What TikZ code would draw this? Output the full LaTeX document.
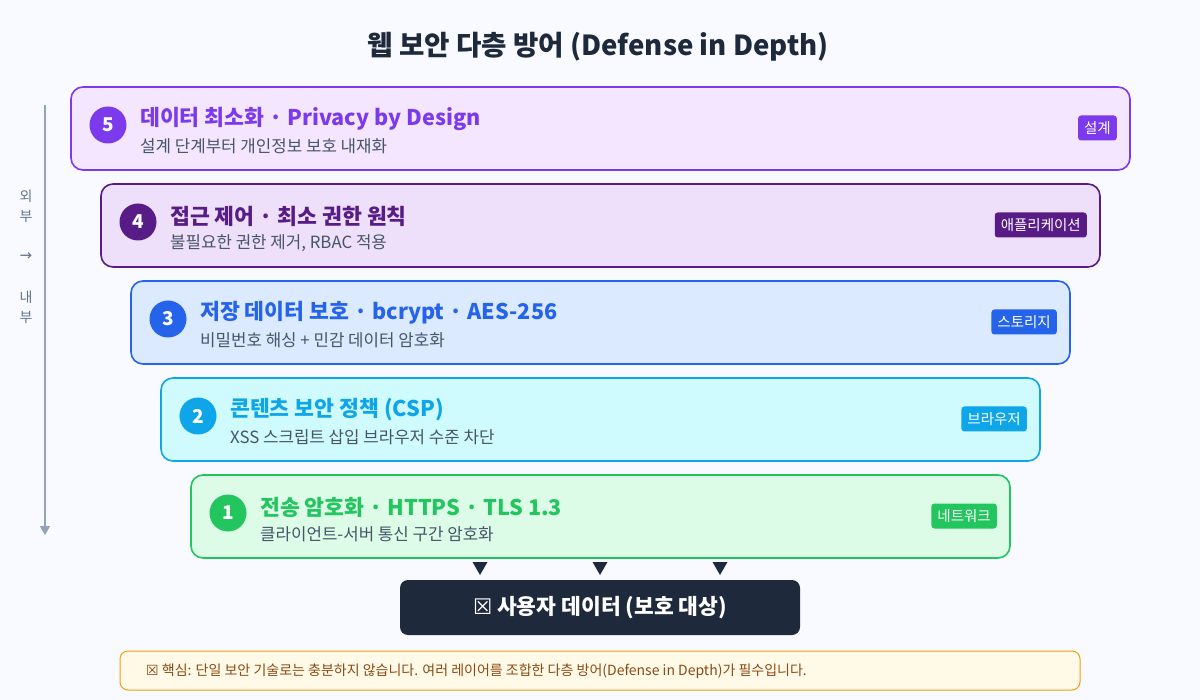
\documentclass[tikz,border=0pt]{standalone}
\usepackage{fontspec}
\setmainfont{Noto Sans CJK KR}
\newfontfamily\symfont{DejaVu Sans}
\usetikzlibrary{arrows.meta,calc}
\definecolor{bg}{HTML}{F8FAFF}
\definecolor{ink}{HTML}{1E293B}
\definecolor{sub}{HTML}{475569}
\definecolor{axis}{HTML}{94A3B8}
\definecolor{axistext}{HTML}{64748B}
\definecolor{cA}{HTML}{7C3AED}\definecolor{fA}{HTML}{F3E6FE}
\definecolor{cB}{HTML}{581C87}\definecolor{fB}{HTML}{EEDFFA}
\definecolor{cC}{HTML}{2563EB}\definecolor{fC}{HTML}{DBEAFE}
\definecolor{cD}{HTML}{0EA5E9}\definecolor{fD}{HTML}{CFFAFE}
\definecolor{cE}{HTML}{22C55E}\definecolor{fE}{HTML}{DCFCE7}
\definecolor{noteF}{HTML}{FFF9E8}
\definecolor{noteB}{HTML}{F59E0B}
\definecolor{noteT}{HTML}{8A4B12}
\tikzset{
  layerbox/.style={draw=#1, line width=1.6pt, rounded corners=12pt},
  numcirc/.style={circle, fill=#1, minimum size=37pt, inner sep=0pt, text=white, font=\bfseries\fontsize{19}{19}\selectfont},
  ltitle/.style={anchor=west, text=#1, font=\bfseries\fontsize{21.6}{22}\selectfont, inner sep=0pt},
  lsub/.style={anchor=west, text=sub, font=\fontsize{16.8}{17}\selectfont, inner sep=0pt},
  badge/.style={fill=#1, rounded corners=3pt, text=white, font=\fontsize{14.5}{14.5}\selectfont, inner xsep=6pt, inner ysep=4pt, minimum height=25pt, anchor=east},
  tri/.style={fill=ink, draw=none},
}
\newcommand{\layer}[9]{%
  \fill[#7, rounded corners=12pt] (#2,#3) rectangle (#4,#5);
  \draw[layerbox=#6] (#2,#3) rectangle (#4,#5);
  \node[numcirc=#6] (#1n) at ($(#2,#3)+(37,38)$) {#8};
  \node[badge=#6] (#1b) at ($(#4,#3)+(-13,41)$) {#9};
}
\begin{document}
\begin{tikzpicture}[x=1pt,y=-1pt]
\fill[bg] (0,0) rectangle (1200,700);
\useasboundingbox (0,0) rectangle (1200,700);
\node[text=ink, font=\bfseries\fontsize{27.6}{28}\selectfont] (title) at (598,47) {웹 보안 다층 방어 (Defense in Depth)};

% axis
\coordinate (axtop) at (45,105);
\coordinate (axbot) at (45,535);
\draw[axis, line width=1.6pt, -{Triangle[length=9pt,width=10pt]}] (axtop) -- (axbot);
\node[text=axistext, font=\fontsize{14}{14}\selectfont] (ax1) at (26,196) {외};
\node[text=axistext, font=\fontsize{14}{14}\selectfont] (ax2) at (26,217) {부};
\node[text=axistext, font=\symfont\fontsize{15}{15}\selectfont] (ax3) at (26,257) {→};
\node[text=axistext, font=\fontsize{14}{14}\selectfont] (ax4) at (26,297) {내};
\node[text=axistext, font=\fontsize{14}{14}\selectfont] (ax5) at (26,318) {부};

% layer 5
\layer{L5}{71}{87}{1130}{170}{cA}{fA}{5}{설계}
\node[ltitle=cA] (L5t) at (140,119) {데이터 최소화 · Privacy by Design};
\node[lsub] (L5s) at (140,146) {설계 단계부터 개인정보 보호 내재화};
% layer 4
\layer{L4}{101}{184}{1100}{267}{cB}{fB}{4}{애플리케이션}
\node[ltitle=cB] (L4t) at (170,216) {접근 제어 · 최소 권한 원칙};
\node[lsub] (L4s) at (170,243) {불필요한 권한 제거, RBAC 적용};
% layer 3
\layer{L3}{131}{281}{1070}{364}{cC}{fC}{3}{스토리지}
\node[ltitle=cC] (L3t) at (200,313) {저장 데이터 보호 · bcrypt · AES-256};
\node[lsub] (L3s) at (200,340) {비밀번호 해싱 + 민감 데이터 암호화};
% layer 2
\layer{L2}{161}{378}{1040}{461}{cD}{fD}{2}{브라우저}
\node[ltitle=cD] (L2t) at (230,410) {콘텐츠 보안 정책 (CSP)};
\node[lsub] (L2s) at (230,437) {XSS 스크립트 삽입 브라우저 수준 차단};
% layer 1
\layer{L1}{191}{475}{1010}{558}{cE}{fE}{1}{네트워크}
\node[ltitle=cE] (L1t) at (260,507) {전송 암호화 · HTTPS · TLS 1.3};
\node[lsub] (L1s) at (260,534) {클라이언트-서버 통신 구간 암호화};

% user data box
\node[fill=ink, rounded corners=8pt, minimum width=400pt, minimum height=55pt, text=white, font=\bfseries\fontsize{21.5}{22}\selectfont] (user) at (600,607.5) {{\symfont\mdseries ☒} 사용자 데이터 (보호 대상)};

% small triangles
\foreach \x in {480,600,720} {
  \fill[tri] (\x-7.5,562) -- (\x+7.5,562) -- (\x,575) -- cycle;
}

% note
\node[fill=noteF, draw=noteB, line width=1pt, rounded corners=8pt, minimum width=960pt, minimum height=39pt] (note) at (600,670.5) {};
\node[anchor=west, text=noteT, font=\fontsize{14}{14}\selectfont, inner sep=0pt] (notet) at (146,671) {{\symfont ☒} 핵심: 단일 보안 기술로는 충분하지 않습니다. 여러 레이어를 조합한 다층 방어(Defense in Depth)가 필수입니다.};
\end{tikzpicture}
\end{document}
